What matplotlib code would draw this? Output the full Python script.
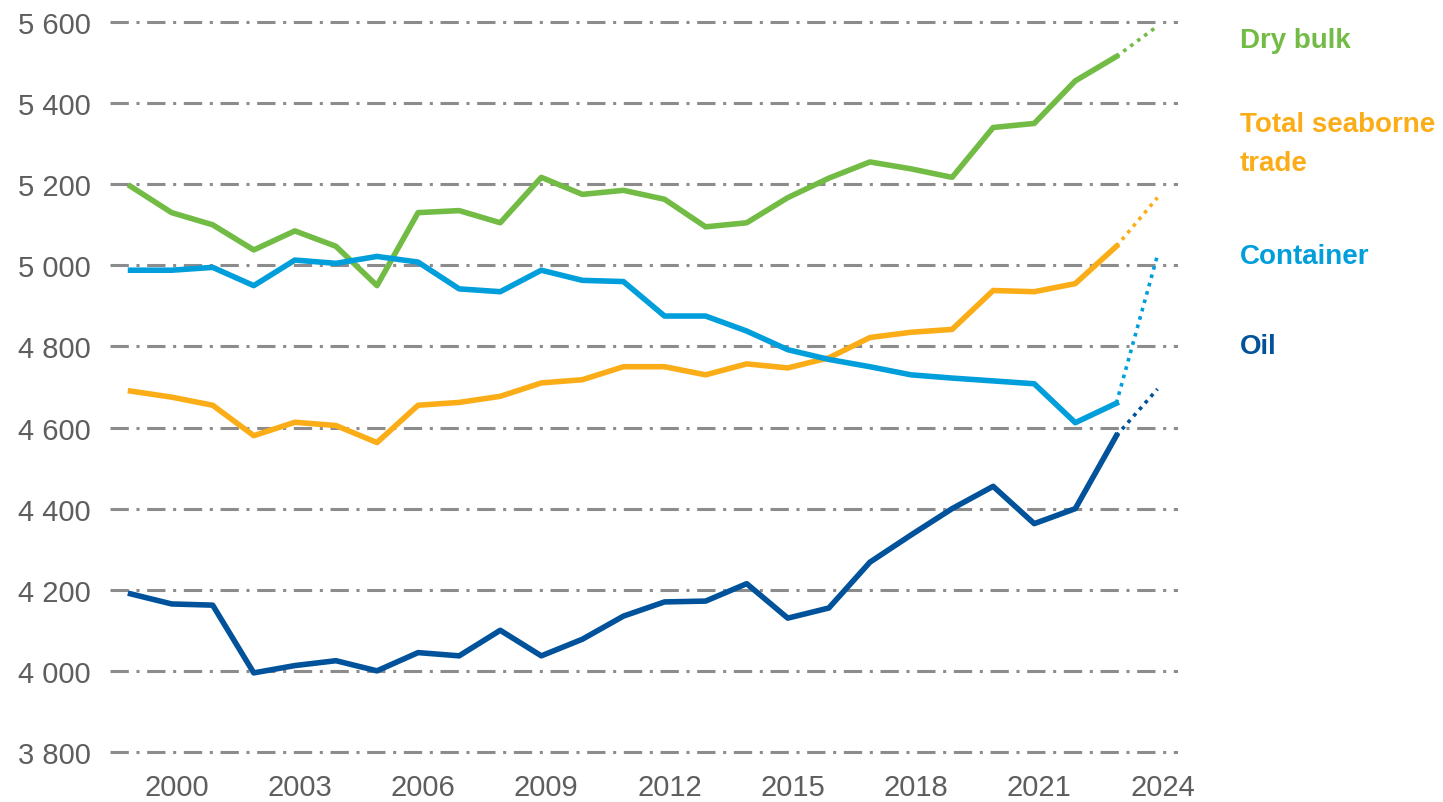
import matplotlib
matplotlib.use("Agg")
import matplotlib.pyplot as plt
import matplotlib.transforms as mtransforms
from matplotlib.ticker import FuncFormatter

years = list(range(1999, 2025))

dry_bulk = [5195, 5130, 5100, 5038, 5085, 5047, 4950, 5130, 5135, 5105,
            5217, 5175, 5185, 5163, 5095, 5105, 5167, 5215, 5255, 5238,
            5217, 5340, 5350, 5455, 5515, 5590]
total_trade = [4690, 4675, 4655, 4580, 4613, 4605, 4563, 4655, 4662, 4677,
               4710, 4718, 4750, 4750, 4730, 4757, 4747, 4772, 4822, 4835,
               4842, 4938, 4935, 4955, 5047, 5167]
container = [4988, 4988, 4995, 4950, 5013, 5005, 5022, 5008, 4942, 4935,
             4988, 4963, 4960, 4875, 4875, 4838, 4792, 4768, 4750, 4730,
             4722, 4715, 4708, 4612, 4660, 5025]
oil = [4190, 4165, 4162, 3995, 4013, 4025, 4000, 4045, 4037, 4100,
       4037, 4078, 4135, 4170, 4172, 4215, 4130, 4155, 4268, 4335,
       4400, 4455, 4363, 4400, 4580, 4695]

series = [
    ("Dry bulk", dry_bulk, "#72bb44", 5555),
    ("Total seaborne\ntrade", total_trade, "#fbad18", 5300),
    ("Container", container, "#009edb", 5022),
    ("Oil", oil, "#00529b", 4800),
]

x_ticks = [2000, 2003, 2006, 2009, 2012, 2015, 2018, 2021, 2024]
y_ticks = [3800, 4000, 4200, 4400, 4600, 4800, 5000, 5200, 5400, 5600]

plt.rcParams['font.family'] = ['Liberation Sans', 'DejaVu Sans']

fig = plt.figure(figsize=(14.43, 8.03), dpi=100)
ax = fig.add_axes([110 / 1443, 46 / 803, 1068 / 1443, 738 / 803])

# solid up to 2023, dotted projection to 2024
for name, vals, color, label_y in series:
    ax.plot(years[:-1], vals[:-1], color=color, lw=4, zorder=3)
    ax.plot(years[-2:], vals[-2:], color=color, lw=2.6,
            linestyle=(0, (1, 1.4)), zorder=3)
    ax.text(2026.0, label_y, name, color=color, fontsize=20, fontweight='bold',
            va='center', ha='left', linespacing=1.65, clip_on=False)

ax.set_xlim(1998.5, 2024.5)
ax.set_ylim(3790, 5610)
ax.set_xticks(x_ticks)
ax.set_yticks(y_ticks)
ax.yaxis.set_major_formatter(FuncFormatter(lambda v, p: f"{int(v):,}".replace(",", " ")))

ax.grid(axis='y', color='#8c8c8c', lw=2.2, linestyle=(0, (6, 2.5, 1, 2.5)))
ax.set_axisbelow(True)
for s in ax.spines.values():
    s.set_visible(False)
ax.tick_params(axis='both', length=0, labelsize=21, labelcolor='#5e5e5e')
ax.tick_params(axis='y', pad=14)
ax.tick_params(axis='x', pad=12)

# year labels sit a little right of the points in the original
shift = mtransforms.ScaledTranslation(5 / 100, 0, fig.dpi_scale_trans)
for lab in ax.get_xticklabels():
    lab.set_transform(lab.get_transform() + shift)

fig.savefig("out.png", dpi=100)
